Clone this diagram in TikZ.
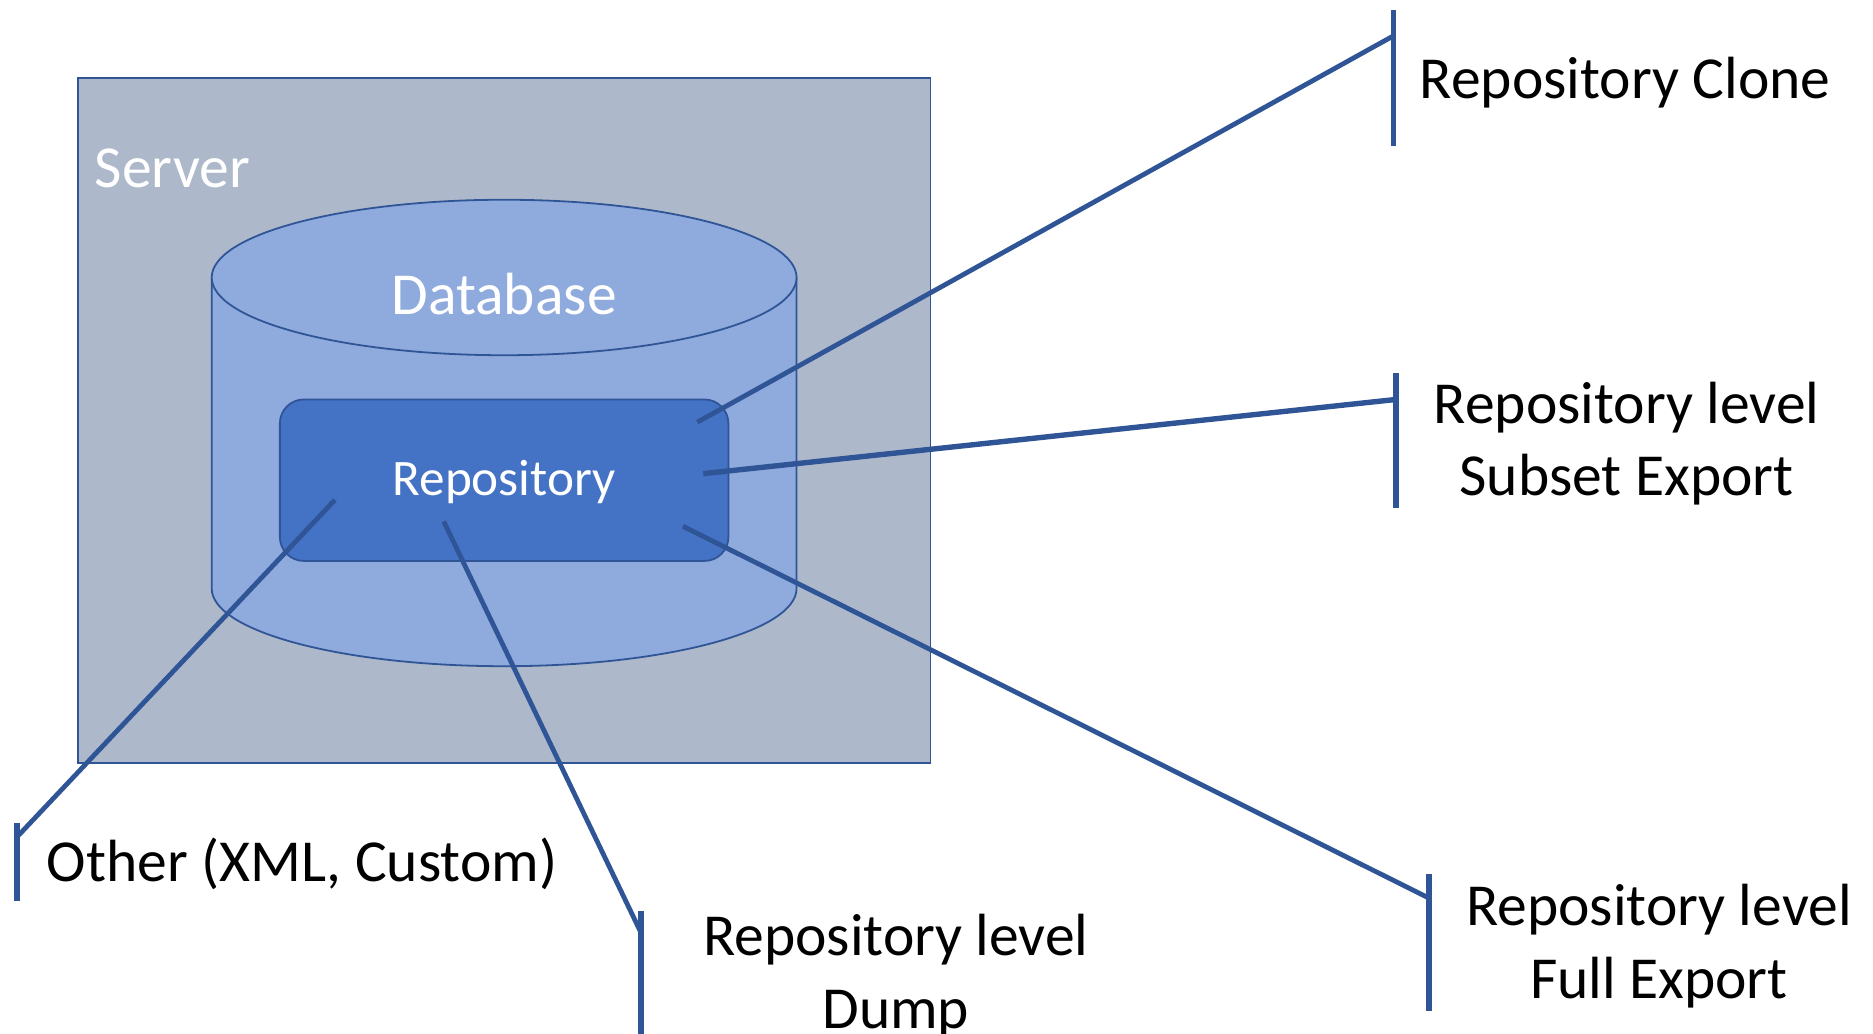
\documentclass[tikz,border=0pt]{standalone}
\usepackage{fontspec}
\setmainfont{Carlito}
\definecolor{srvfill}{HTML}{ADB9CA}
\definecolor{dbfill}{HTML}{8FAADC}
\definecolor{repofill}{HTML}{4472C4}
\definecolor{edge}{HTML}{2F5597}
\newcommand{\biglbl}{\fontsize{49.8}{60.5}\selectfont}
\newcommand{\repolbl}{\fontsize{42.8}{50}\selectfont}
\begin{document}
\begin{tikzpicture}[x=1pt,y=-1pt,
  outline/.style={draw=edge,line width=1.5pt},
  conn/.style={draw=edge,line width=4pt},
  tbar/.style={draw=edge,line width=4.8pt},
  lbl/.style={font=\biglbl,text=black,inner sep=0pt,align=center}]
\useasboundingbox (0,0) rectangle (1566,864.5);
\fill[white] (0,0) rectangle (1566,864.5);
% server
\node[outline,fill=srvfill,minimum width=713pt,minimum height=573pt,inner sep=0pt] (server) at (421.5,351.5) {};
\node[anchor=base west,text=white,font=\biglbl,inner sep=0pt] (srvlbl) at (79,157) {Server};
% database cylinder
\path[outline,fill=dbfill] (177,232) -- (177,492) arc[start angle=180,end angle=0,x radius=244.5,y radius=65] -- (666,232) -- cycle;
\path[outline,fill=dbfill] (421.5,232) ellipse[x radius=244.5,y radius=65];
\node[text=white,font=\biglbl,inner sep=0pt] (dblbl) at (421.5,246) {Database};
% repository
\node[outline,fill=repofill,rounded corners=20pt,minimum width=375pt,minimum height=135pt,inner sep=0pt] (repo) at (421.5,401.5) {};
\node[text=white,font=\repolbl,inner sep=0pt] (repolbl) at (421.5,403) {Repository};
% anchor points
\coordinate (s1) at (583,353);
\coordinate (s2) at (588,396);
\coordinate (s3) at (571,440);
\coordinate (s4) at (371,436);
\coordinate (s5) at (280,418);
\coordinate (e1) at (1165,30);
\coordinate (e2) at (1167,334);
\coordinate (e3) at (1195,751);
\coordinate (e4) at (536,780);
\coordinate (e5) at (14,700);
% bars
\coordinate (b1t) at (1165,8);   \coordinate (b1b) at (1165,122);
\coordinate (b2t) at (1167,312); \coordinate (b2b) at (1167,425);
\coordinate (b3t) at (1195,731); \coordinate (b3b) at (1195,845);
\coordinate (b4t) at (536,762);  \coordinate (b4b) at (536,864.5);
\coordinate (b5t) at (14,688);   \coordinate (b5b) at (14,753);
\draw[tbar] (b1t) -- (b1b);
\draw[tbar] (b2t) -- (b2b);
\draw[tbar] (b3t) -- (b3b);
\draw[tbar] (b4t) -- (b4b);
\draw[tbar] (b5t) -- (b5b);
\draw[conn] (s1) -- (e1);
\draw[conn,line width=4.5pt] (s2) -- (e2);
\draw[conn] (s3) -- (e3);
\draw[conn] (s4) -- (e4);
\draw[conn] (s5) -- (e5);
% labels
\node[lbl,anchor=base west] (l1) at (1187,82) {Repository Clone};
\node[lbl] (l2) at (1360,371) {Repository level\\Subset Export};
\node[lbl] (l3) at (1387,791) {Repository level\\Full Export};
\node[lbl] (l4) at (749,816) {Repository level\\Dump};
\node[lbl,anchor=base west] (l5) at (39,737) {Other (XML, Custom)};
\end{tikzpicture}
\end{document}
